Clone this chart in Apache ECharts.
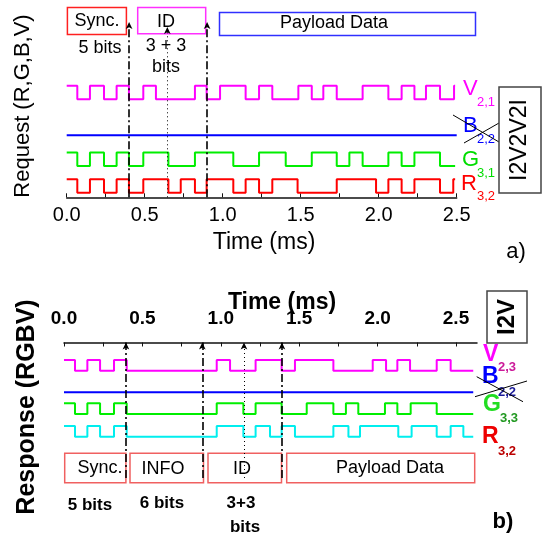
<!DOCTYPE html>
<html><head><meta charset="utf-8">
<script src="https://cdn.jsdelivr.net/npm/echarts@6/dist/echarts.min.js"></script>
<style>html,body{margin:0;padding:0;background:#fff}#c{width:545px;height:539px}</style>
</head><body><div id="c"></div>
<script>
// ---------- Panel a) Request : transition times (ms) and logic levels ----------
const reqTimesV = [0,0.068,0.149,0.239,0.32,0.399,0.491,0.572,0.822,0.897,0.983,1.147,1.233,1.318,1.485,1.571,1.645,1.731,1.897,2.062,2.147,2.229,2.303,2.393,2.483,2.49];
const reqLevelsV = [1,0,1,0,1,0,1,0,1,0,1,0,1,0,1,0,1,0,1,0,1,0,1,0,1,1];
const reqTimesB = [0,2.5];
const reqLevelsB = [0,0];
const reqTimesG = [0,0.068,0.149,0.239,0.32,0.399,0.491,0.652,0.822,1.068,1.233,1.404,1.571,1.731,1.812,1.897,2.062,2.147,2.229,2.393,2.49];
const reqLevelsG = [1,0,1,0,1,0,1,0,1,0,1,0,1,0,1,0,1,0,1,0,0];
const reqTimesR = [0,0.068,0.149,0.239,0.32,0.399,0.491,0.652,0.731,0.822,0.897,1.068,1.147,1.233,1.318,1.48,1.731,1.983,2.062,2.147,2.229,2.393,2.478,2.49];
const reqLevelsR = [1,0,1,0,1,0,1,0,1,0,1,0,1,0,1,0,1,0,1,0,1,0,1,1];
const reqMarkers = [0.4, 0.9];      // dash-dot field boundaries
const reqMidMarker = [0.645];       // dotted line inside ID field
const reqTickValues = [0,0.25,0.5,0.75,1,1.25,1.5,1.75,2,2.25,2.5];
const reqLabelValues = [0,0.5,1,1.5,2,2.5];

// ---------- Panel b) Response ----------
const resTimesV = [0,0.07,0.149,0.23,0.319,0.4,0.974,1.059,1.222,1.388,1.473,1.718,1.969,2.054,2.126,2.207,2.377,2.466,2.61];
const resLevelsV = [1,0,1,0,1,0,1,0,1,0,1,0,1,0,1,0,1,0,0];
const resTimesB = [0,2.61];
const resLevelsB = [0,0];
const resTimesG = [0,0.07,0.149,0.23,0.319,0.4,0.974,1.144,1.222,1.388,1.548,1.718,1.798,1.877,2.047,2.126,2.211,2.377,2.61];
const resLevelsG = [1,0,1,0,1,0,1,0,1,0,1,0,1,0,1,0,1,0,0];
const resTimesR = [0,0.07,0.149,0.23,0.319,0.4,0.974,1.144,1.222,1.314,1.388,1.473,1.718,1.814,1.888,2.132,2.217,2.377,2.466,2.547,2.61];
const resLevelsR = [1,0,1,0,1,0,1,0,1,0,1,0,1,0,1,0,1,0,1,0,0];
const resMarkers = [0.395, 0.882, 1.39];
const resMidMarker = [1.148];
const resTickValues = [0,0.25,0.5,0.75,1,1.25,1.5,1.75,2,2.25,2.5];
const resLabelValues = [0,0.5,1,1.5,2,2.5];

// ---------- layout / style ----------
const FONT = '"Liberation Sans", Arial, sans-serif';
const A_OFF = {V:7.28, B:4.6, G:2.33, R:0.34};
const B_OFF = {V:10.06, B:8.03, G:6.0, R:3.87};

function steps(times, levels, off){ return times.map((t,i)=>[t, off + levels[i]]); }
function sig(name, times, levels, off, color, gi){
  return {type:'line', name, xAxisIndex:gi, yAxisIndex:gi, step:'end', symbol:'none',
    silent:true, animation:false, data: steps(times, levels, off),
    lineStyle:{color, width:2}, itemStyle:{color}};
}
function marks(vals, mid, ymaxMain, ymaxMid){
  const d = vals.map(v=>[{coord:[v,0]},{coord:[v,ymaxMain]}]);
  const d2 = mid.map(v=>[{coord:[v,0], lineStyle:{type:[1,3], width:1, color:'#000'}},{coord:[v,ymaxMid]}]);
  return {silent:true, animation:false, symbol:['none','arrow'], symbolSize:[5,7],
    label:{show:false}, lineStyle:{color:'#000', width:1.6, type:[8,3,2,3]}, data: d.concat(d2)};
}

const chart = echarts.init(document.getElementById('c'), null, {renderer:'canvas'});
const t = (text,x,y,size,opt={}) => ({type:'text', x, y, rotation: opt.rot||0, silent:true,
  style:{text, fill: opt.color||'#000', font:(opt.bold?'bold ':'')+size+'px '+FONT,
    textAlign: opt.align||'center', textVerticalAlign:'middle'}});
const r = (x,y,w,h,c,lw) => ({type:'rect', silent:true, shape:{x,y,width:w,height:h}, style:{fill:'none', stroke:c, lineWidth:lw||1.5}});
const l = (x1,y1,x2,y2) => ({type:'line', silent:true, shape:{x1,y1,x2,y2}, style:{stroke:'#000', lineWidth:1}});

const reqB = sig('B', reqTimesB, reqLevelsB, A_OFF.B, '#0000ff', 0);
reqB.markLine = marks(reqMarkers, reqMidMarker, 13, 12.63);
const resB = sig('B', resTimesB, resLevelsB, B_OFF.B, '#0000ff', 1);
resB.markLine = marks(resMarkers, resMidMarker, 12.7, 12.7);

chart.setOption({
  animation:false,
  backgroundColor:'#fff',
  grid:[
    {left:66.7, right:88.3, top:22, bottom:341.7},
    {left:64, right:68, top:342.5, bottom:61}
  ],
  xAxis:[
    {type:'value', gridIndex:0, min:0, max:2.5, position:'bottom',
     axisLine:{onZero:false, lineStyle:{color:'#111', width:1.5}},
     axisTick:{inside:true, length:4, customValues:reqTickValues, lineStyle:{color:'#111'}},
     axisLabel:{customValues:reqLabelValues, formatter:v=>v.toFixed(1), color:'#000', fontSize:20, fontFamily:FONT, margin:8},
     splitLine:{show:false}},
    {type:'value', gridIndex:1, min:0, max:2.634, position:'top',
     axisLine:{onZero:false, lineStyle:{color:'#111', width:1.5}},
     axisTick:{inside:true, length:4, customValues:resTickValues, lineStyle:{color:'#111'}},
     axisLabel:{customValues:resLabelValues, formatter:v=>v.toFixed(1), color:'#000', fontSize:19, fontWeight:'bold', fontFamily:FONT, margin:14},
     splitLine:{show:false}}
  ],
  yAxis:[
    {type:'value', gridIndex:0, min:0, max:13, show:false},
    {type:'value', gridIndex:1, min:0, max:12.7, show:false}
  ],
  series:[
    sig('V', reqTimesV, reqLevelsV, A_OFF.V, '#ff00ff', 0),
    reqB,
    sig('G', reqTimesG, reqLevelsG, A_OFF.G, '#00ee00', 0),
    sig('R', reqTimesR, reqLevelsR, A_OFF.R, '#ff0000', 0),
    sig('V', resTimesV, resLevelsV, B_OFF.V, '#ff00ff', 1),
    resB,
    sig('G', resTimesG, resLevelsG, B_OFF.G, '#00ee00', 1),
    sig('R', resTimesR, resLevelsR, B_OFF.R, '#00eeee', 1)
  ],
  graphic:[
    // panel a
    r(67.4,7.4,59,27,'#ff2020'), r(137.7,7.4,68,26.4,'#ff30ff'), r(219.5,12.5,256,23,'#3030ff'),
    t('Sync.',97,21,18), t('ID',166,22,18), t('Payload Data',334,23,18),
    t('5 bits',100,48,18), t('3 + 3',166,46,18), t('bits',166,67,18),
    t('Request (R,G,B,V)',23,106,22,{rot:Math.PI/2}),
    t('Time (ms)',264,243,23),
    t('a)',516,252,22),
    t('V',463,89,22,{color:'#ff00ff',align:'left'}), t('2,1',477,102,13,{color:'#ff00ff',align:'left'}),
    t('B',463,126,22,{color:'#0000ff',align:'left'}), t('2,2',477,139,13,{color:'#0000ff',align:'left'}),
    t('G',462,160,22,{color:'#00dd00',align:'left'}), t('3,1',477,173,13,{color:'#00dd00',align:'left'}),
    t('R',461,184,22,{color:'#ff0000',align:'left'}), t('3,2',477,196,13,{color:'#ff0000',align:'left'}),
    l(453,115,499,142), l(464,143,499,123),
    r(499,87,42,106,'#444',1.5), t('I2V2V2I',520,140,23,{rot:Math.PI/2}),
    // panel b
    t('Time (ms)',282,303,23,{bold:true}),
    t('Response (RGBV)',27,407,25,{rot:Math.PI/2,bold:true}),
    r(64.7,453.3,61.2,29.4,'#f06060'), r(130,453.3,73.5,29.4,'#f06060'), r(208,453.3,73.5,29.4,'#f06060'), r(286.7,453.3,188,29.4,'#f06060'),
    t('Sync.',100,468,18), t('INFO',163,469,18), t('ID',242,469,18), t('Payload Data',390,468,18),
    t('5 bits',90,505,17,{bold:true}), t('6 bits',162,503,17,{bold:true}), t('3+3',241,503,17,{bold:true}), t('bits',245,527,17,{bold:true}),
    t('V',483,355,23,{bold:true,color:'#ff00ff',align:'left'}), t('2,3',498,367,13,{bold:true,color:'#cc1a99',align:'left'}),
    t('B',482,377,23,{bold:true,color:'#0000ff',align:'left'}), t('2,2',498,392,13,{bold:true,color:'#1a1a99',align:'left'}),
    t('G',483,405,23,{bold:true,color:'#22dd22',align:'left'}), t('3,3',500,418,13,{bold:true,color:'#229922',align:'left'}),
    t('R',482,437,23,{bold:true,color:'#ee0000',align:'left'}), t('3,2',498,451,13,{bold:true,color:'#bb0000',align:'left'}),
    l(476.7,376.7,523,401.7), l(475,396.7,527,381),
    r(487,291,40,52,'#444',1.5), t('I2V',507,317,24,{rot:Math.PI/2,bold:true}),
    t('b)',503,522,22,{bold:true})
  ]
});
</script></body></html>
